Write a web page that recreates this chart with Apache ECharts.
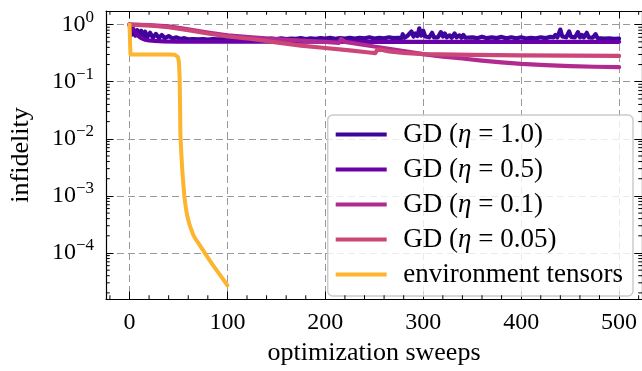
<!DOCTYPE html>
<html><head><meta charset="utf-8">
<script src="https://cdn.jsdelivr.net/npm/echarts@6/dist/echarts.min.js"></script>
<style>html,body{margin:0;padding:0;background:#fff}#c{width:642px;height:371px}</style>
</head><body><div id="c"></div>
<script>
const FONT = '"Liberation Serif", "DejaVu Serif", serif';
const seriesNames = ['GD (η = 1.0)', 'GD (η = 0.5)', 'GD (η = 0.1)', 'GD (η = 0.05)', 'environment tensors'];
const seriesColors = ['#3e049c', '#6a00a8', '#b12a90', '#cc4778', '#fdb42f'];

const gd10 = [[0,1.0],[2,0.66],[4,0.84],[6,0.64],[8,0.8],[10,0.62],[12,0.78],[14,0.61],[16,0.75],[18,0.6],[21,0.72],[24,0.59],[27,0.69],[30,0.58],[33,0.66],[36,0.58],[40,0.63],[44,0.57],[48,0.6],[52,0.56],[56,0.58],[60,0.555],
[65,0.56],[70,0.555],[75,0.56],[80,0.55],[85,0.56],[90,0.555],[95,0.56],[100,0.55],[105,0.56],[110,0.565],[115,0.555],[120,0.56],[125,0.57],[130,0.555],[135,0.565],[140,0.56],[145,0.57],[150,0.56],[155,0.575],[160,0.56],[165,0.57],[170,0.565],[175,0.58],[180,0.56],[185,0.575],[190,0.565],[195,0.58],[200,0.57],[205,0.585],[210,0.565],[215,0.58],[220,0.57],[225,0.59],[230,0.57],[235,0.585],[240,0.575],[245,0.6],[250,0.57],[255,0.59],[260,0.575],[265,0.6],[270,0.58],
[274,0.59],[276,0.62],[278,0.585],[279,0.68],[281,0.59],[283,0.6],[284,0.64],[286,0.6],[288,0.76],[290,0.62],[292,0.7],[294,0.63],[296,0.86],[298,0.64],[300,0.78],[302,0.62],[304,0.67],[306,0.6],[309,0.72],[311,0.6],[313,0.65],[315,0.6],[318,0.74],[320,0.62],[322,0.7],[324,0.6],[327,0.65],[329,0.59],[332,0.7],[334,0.6],[337,0.65],[339,0.59],[341,0.66],[343,0.59],[345,0.58],
[350,0.6],[355,0.58],[360,0.615],[365,0.58],[370,0.6],[375,0.58],[380,0.61],[385,0.575],[390,0.6],[395,0.575],[400,0.6],[405,0.57],[410,0.59],[415,0.575],[420,0.6],[425,0.58],[430,0.61],
[433,0.6],[435,0.66],[437,0.6],[440,0.82],[442,0.62],[444,0.66],[446,0.6],[449,0.76],[451,0.61],[453,0.66],[455,0.6],[458,0.74],[460,0.6],[462,0.66],[464,0.6],[467,0.72],[469,0.6],[471,0.64],[473,0.59],[476,0.68],[478,0.58],
[485,0.57],[490,0.575],[495,0.565],[500,0.57]];

const gd05 = [[0,1.0],[4,0.8],[8,0.66],[12,0.58],[16,0.545],[20,0.53],[26,0.52],[35,0.51],[50,0.505],[100,0.505],[150,0.505],[200,0.505],[250,0.5],[300,0.5],[350,0.5],[400,0.5],[450,0.5],[500,0.5]];

const gd01 = [[0,1.0],[20,0.98],[40,0.93],[60,0.83],[80,0.73],[100,0.65],[125,0.6],[150,0.56],[175,0.525],[200,0.5],[214,0.48],[216,0.56],[218,0.6],[220,0.5],[222,0.475],[240,0.44],[260,0.39],[280,0.345],[300,0.305],[320,0.275],[340,0.255],[360,0.235],[380,0.218],[400,0.205],[425,0.195],[450,0.188],[475,0.183],[500,0.18]];

const gd005 = [[0,1.0],[20,0.97],[40,0.9],[60,0.8],[80,0.7],[100,0.62],[125,0.56],[150,0.49],[175,0.43],[200,0.39],[225,0.355],[245,0.325],[251,0.318],[253,0.36],[255,0.385],[258,0.36],[265,0.34],[280,0.32],[300,0.305],[350,0.296],[400,0.29],[450,0.286],[500,0.283]];

const envT = [[0,1.0],[1,0.30],[10,0.30],[20,0.30],[30,0.30],[40,0.30],[46,0.298],[48,0.29],[49.5,0.27],[50.5,0.22],[51.2,0.12],[51.6,0.04],[52,0.012],[53,0.0052],[54,0.0027],[55,0.0016],[56,0.001],[57,0.00072],[58,0.00055],[59,0.00045],[60,0.00038],[61,0.00033],[62,0.00029],[63,0.00026],[65,0.00021],[67,0.00018],[70,0.000152],[75,0.000112],[80,0.000083],[85,0.000062],[90,0.000047],[95,0.000036],[100,0.000027]];

const xMinorTicks = [-20,20,40,60,80,120,140,160,180,220,240,260,280,320,340,360,380,420,440,460,480,520];
const yMinorTicks = [2e-5,3e-5,4e-5,5e-5,6e-5,7e-5,8e-5,9e-5,2e-4,3e-4,4e-4,5e-4,6e-4,7e-4,8e-4,9e-4,2e-3,3e-3,4e-3,5e-3,6e-3,7e-3,8e-3,9e-3,2e-2,3e-2,4e-2,5e-2,6e-2,7e-2,8e-2,9e-2,0.2,0.3,0.4,0.5,0.6,0.7,0.8,0.9];

const X_MIN = -24, X_MAX = 523.4;
const Y_MIN = 1.563e-5, Y_MAX = 1.734;

const chart = echarts.init(document.getElementById('c'), null, {renderer: 'canvas'});
const tickStyle = {color: '#000', width: 1};
const axisLineStyle = {color: '#000', width: 1.2};
const gridStyle = {color: '#999999', width: 1, type: [7, 4]};

function supLabel(v) {
  const e = Math.round(Math.log10(v));
  return '{b|10}{s|' + (e < 0 ? '\u2212' + (-e) : String(e)) + '}';
}

const dataSeries = [gd10, gd05, gd01, gd005, envT].map((d, i) => ({
  name: seriesNames[i], type: 'line', data: d, showSymbol: false, symbol: 'none',
  color: seriesColors[i], xAxisIndex: 0, yAxisIndex: 0,
  lineStyle: {color: seriesColors[i], width: i === 4 ? 4 : 4.2, cap: 'round', join: 'round'},
  itemStyle: {color: seriesColors[i]}, z: 3 + i, silent: true, clip: true
}));

const minorX = {
  type: 'custom', xAxisIndex: 0, yAxisIndex: 0, silent: true, z: 10,
  data: xMinorTicks.map(v => [v, 1]),
  renderItem(params, api) {
    const cs = params.coordSys;
    const p = api.coord([api.value(0), api.value(1)]);
    const L = 3.75;
    return {type: 'group', children: [
      {type: 'line', shape: {x1: p[0], y1: cs.y + cs.height, x2: p[0], y2: cs.y + cs.height - L}, style: {stroke: '#000', lineWidth: 1}},
      {type: 'line', shape: {x1: p[0], y1: cs.y, x2: p[0], y2: cs.y + L}, style: {stroke: '#000', lineWidth: 1}}
    ]};
  }
};
const minorY = {
  type: 'custom', xAxisIndex: 0, yAxisIndex: 0, silent: true, z: 10,
  data: yMinorTicks.map(v => [0, v]),
  renderItem(params, api) {
    const cs = params.coordSys;
    const p = api.coord([api.value(0), api.value(1)]);
    const L = 3.75;
    return {type: 'group', children: [
      {type: 'line', shape: {x1: cs.x, y1: p[1], x2: cs.x + L, y2: p[1]}, style: {stroke: '#000', lineWidth: 1}},
      {type: 'line', shape: {x1: cs.x + cs.width, y1: p[1], x2: cs.x + cs.width - L, y2: p[1]}, style: {stroke: '#000', lineWidth: 1}}
    ]};
  }
};

chart.setOption({
  animation: false,
  backgroundColor: '#fff',
  textStyle: {fontFamily: FONT},
  grid: {left: 105.7, top: 11, right: -1.2, bottom: 64.5, containLabel: false},
  legend: {
    data: seriesNames, orient: 'vertical', left: 327.7, top: 115,
    itemWidth: 51, itemHeight: 4, itemGap: 8, icon: 'rect',
    padding: [6, 10, 8, 8],
    backgroundColor: 'rgba(255,255,255,0.8)', borderColor: '#cccccc', borderWidth: 1.5, borderRadius: 5,
    selectedMode: false,
    textStyle: {fontFamily: FONT, fontSize: 27, lineHeight: 24, color: '#000', padding: [0, 0, 0, 11.6],
      rich: {it: {fontFamily: FONT, fontSize: 27, lineHeight: 24, fontStyle: 'italic', color: '#000'}}},
    formatter: n => n.replace('η', '{it|η}'),
    itemStyle: {borderWidth: 0}
  },
  xAxis: [{
    type: 'value', min: X_MIN, max: X_MAX, position: 'bottom',
    name: 'optimization sweeps', nameLocation: 'middle', nameGap: 41,
    nameTextStyle: {fontFamily: FONT, fontSize: 26, color: '#000'},
    axisLine: {show: true, onZero: false, lineStyle: axisLineStyle},
    axisTick: {show: true, inside: true, length: 7.5, lineStyle: tickStyle},
    axisLabel: {show: true, inside: false, margin: 12, fontFamily: FONT, fontSize: 24, color: '#000', showMinLabel: false, showMaxLabel: false,
      formatter: v => String(Math.round(v))},
    splitLine: {show: true, lineStyle: gridStyle}
  }, {
    type: 'value', min: X_MIN, max: X_MAX, position: 'top',
    axisLine: {show: true, onZero: false, lineStyle: axisLineStyle},
    axisTick: {show: true, inside: true, length: 7.5, lineStyle: tickStyle},
    axisLabel: {show: false}, splitLine: {show: false}
  }],
  yAxis: [{
    type: 'log', logBase: 10, min: Y_MIN, max: Y_MAX, position: 'left',
    name: 'infidelity', nameLocation: 'middle', nameGap: 72, nameRotate: 90,
    nameTextStyle: {fontFamily: FONT, fontSize: 26, color: '#000'},
    axisLine: {show: true, onZero: false, lineStyle: axisLineStyle},
    axisTick: {show: true, inside: true, length: 7.5, lineStyle: tickStyle},
    axisLabel: {show: true, margin: 12, color: '#000', showMinLabel: false, showMaxLabel: false,
      formatter: supLabel,
      rich: {b: {fontFamily: FONT, fontSize: 24, lineHeight: 32, color: '#000'},
             s: {fontFamily: FONT, fontSize: 17, lineHeight: 17, verticalAlign: 'top', color: '#000'}}},
    splitLine: {show: true, lineStyle: gridStyle}
  }, {
    type: 'log', logBase: 10, min: Y_MIN, max: Y_MAX, position: 'right',
    axisLine: {show: true, onZero: false, lineStyle: axisLineStyle},
    axisTick: {show: true, inside: true, length: 7.5, lineStyle: tickStyle},
    axisLabel: {show: false}, splitLine: {show: false}
  }],
  series: dataSeries.concat([minorX, minorY])
});
</script></body></html>
